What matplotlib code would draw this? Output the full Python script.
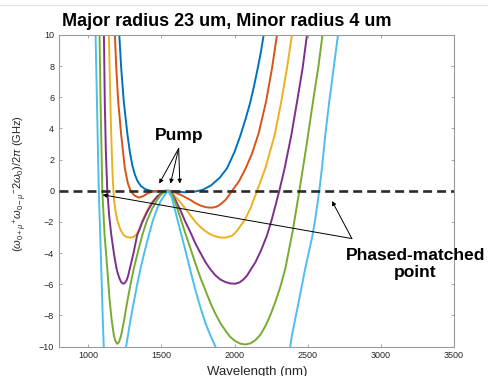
"""Integrated dispersion curves vs wavelength, ring 23 um / 4 um."""
import matplotlib
matplotlib.use("Agg")
import matplotlib.pyplot as plt
from matplotlib.lines import Line2D

# --- Data (wavelength in nm, value in GHz) ---
WL_1 = [1205, 1212, 1225, 1243, 1268, 1285, 1302, 1320, 1338, 1360, 1390, 1425, 1470,
        1510, 1545, 1600, 1660, 1720, 1780, 1840, 1900, 1949, 2000, 2040, 2075, 2108,
        2135, 2158, 2180, 2199, 2210]
VAL_1 = [11.5, 10.0, 7.9, 5.7, 3.6, 2.45, 1.6, 1.0, 0.6, 0.3, 0.1, 0.0, -0.06,
         -0.03, 0.0, -0.05, -0.1, -0.07, 0.05, 0.35, 0.85, 1.45, 2.5, 3.55, 4.6, 5.7,
         6.8, 7.85, 8.9, 10.0, 10.7]

WL_2 = [1176, 1182, 1192, 1205, 1225, 1250, 1270, 1289, 1315, 1345, 1375, 1403, 1430,
        1460, 1500, 1545, 1570, 1596, 1630, 1664, 1700, 1733, 1767, 1801, 1825, 1850,
        1875, 1900, 1937, 1960, 1983, 2030, 2074, 2120, 2165, 2215, 2256, 2290, 2298]
VAL_2 = [11.2, 10.0, 7.8, 5.7, 3.6, 1.45, 0.5, 0.0, -0.3, -0.44, -0.35, -0.18, -0.08,
         -0.03, -0.01, 0.0, -0.03, -0.12, -0.25, -0.42, -0.6, -0.8, -0.95, -1.05, -1.08,
         -1.08, -1.03, -0.9, -0.6, -0.32, 0.0, 0.6, 1.4, 2.4, 3.7, 5.71, 7.86, 10.0, 10.6]

WL_3 = [1137, 1141, 1149, 1157, 1165, 1175, 1186, 1200, 1220, 1243, 1265, 1289, 1310,
        1328, 1350, 1373, 1405, 1437, 1478, 1510, 1545, 1570, 1596, 1630, 1664, 1700,
        1733, 1767, 1801, 1835, 1869, 1903, 1937, 1980, 2005, 2030, 2052, 2074, 2110,
        2154, 2210, 2274, 2319, 2358, 2392, 2400]
VAL_3 = [11.5, 10.0, 6.5, 3.6, 1.3, -0.5, -1.3, -1.95, -2.5, -2.86, -2.98, -3.01, -2.96,
         -2.82, -2.5, -1.85, -1.2, -0.71, -0.28, -0.07, 0.0, -0.1, -0.4, -0.75, -1.15, -1.6,
         -2.0, -2.33, -2.6, -2.8, -2.93, -3.0, -3.01, -2.9, -2.7, -2.4, -2.1, -1.8, -1.1,
         0.0, 1.43, 3.57, 5.71, 7.86, 10.0, 10.6]

WL_4 = [1104, 1107, 1113, 1120, 1130, 1143, 1157, 1175, 1191, 1200, 1212, 1225, 1239,
        1250, 1262, 1273, 1284, 1311, 1334, 1370, 1403, 1440, 1471, 1510, 1545, 1570,
        1596, 1630, 1664, 1700, 1733, 1767, 1801, 1835, 1869, 1903, 1937, 1970, 2005,
        2035, 2060, 2085, 2108, 2142, 2180, 2222, 2256, 2306, 2342, 2388, 2427, 2465,
        2495, 2502]
VAL_4 = [11.5, 10.0, 5.71, 2.6, 0.0, -1.6, -2.8, -4.0, -4.9, -5.25, -5.6, -5.87, -5.97,
         -5.92, -5.75, -5.45, -5.0, -3.93, -2.86, -2.0, -1.35, -0.75, -0.38, -0.1, 0.0, -0.15,
         -0.6, -1.25, -2.0, -2.7, -3.4, -4.0, -4.58, -5.05, -5.43, -5.7, -5.86, -5.95, -5.97,
         -5.88, -5.7, -5.45, -5.1, -4.6, -3.85, -2.86, -1.79, 0.0, 1.43, 3.57, 5.71, 7.86,
         10.0, 10.6]

WL_5 = [1074, 1077, 1084, 1096, 1112, 1130, 1145, 1159, 1175, 1186, 1198, 1210, 1225,
        1245, 1266, 1289, 1311, 1340, 1369, 1400, 1437, 1470, 1494, 1520, 1545, 1570,
        1596, 1630, 1664, 1700, 1733, 1767, 1801, 1835, 1869, 1903, 1937, 1970, 2005,
        2040, 2074, 2108, 2142, 2176, 2210, 2244, 2278, 2312, 2347, 2399, 2443, 2490,
        2539, 2572, 2601, 2607]
VAL_5 = [11.5, 10.0, 5.71, 0.0, -2.9, -5.0, -6.9, -8.22, -9.29, -9.65, -9.83, -9.72, -9.29,
         -8.3, -7.15, -6.0, -5.0, -3.9, -2.86, -1.95, -1.15, -0.6, -0.28, -0.07, 0.0, -0.2,
         -0.8, -1.75, -2.75, -3.75, -4.68, -5.6, -6.4, -7.2, -7.9, -8.5, -8.97, -9.38, -9.66,
         -9.82, -9.87, -9.8, -9.6, -9.25, -8.7, -8.0, -7.15, -6.2, -5.0, -2.5, 0.0, 2.8,
         5.9, 7.9, 10.0, 10.5]

WL_6 = [1047, 1050, 1072, 1089, 1100, 1106, 1110, 1250, 1259, 1285, 1311, 1335, 1357,
        1385, 1414, 1442, 1471, 1490, 1509, 1545, 1570, 1600, 1630, 1664, 1700, 1733,
        1767, 1801, 1835, 1869, 1885, 2370, 2381, 2392, 2438, 2483, 2533, 2552, 2579,
        2597, 2620, 2647, 2677, 2707, 2712]
VAL_6 = [11.5, 10.0, 0.0, -5.0, -8.5, -10.0, -11.2, -11.5, -10.0, -8.5, -7.15, -6.0, -5.0,
         -3.9, -2.86, -1.9, -1.15, -0.75, -0.45, 0.0, -0.4, -1.5, -2.6, -3.83, -5.2, -6.4,
         -7.5, -8.5, -9.3, -10.0, -10.7, -10.7, -10.0, -9.29, -7.15, -5.0, -2.86, -1.79, 0.0,
         1.43, 3.57, 5.71, 7.86, 10.0, 10.5]

CURVES = [(WL_1, VAL_1), (WL_2, VAL_2), (WL_3, VAL_3),
          (WL_4, VAL_4), (WL_5, VAL_5), (WL_6, VAL_6)]

# MATLAB default line colours
COLORS = ["#0072BD", "#D95319", "#EDB120", "#7E2F8E", "#77AC30", "#4DBEEE"]

X_TICKS = [1000, 1500, 2000, 2500, 3000, 3500]
Y_TICKS = [-10, -8, -6, -4, -2, 0, 2, 4, 6, 8, 10]

PUMP_TAIL = (1618, 2.72)
PUMP_HEADS = [(1485, 0.46), (1562, 0.46), (1626, 0.46)]
PM_TAIL = (2802, -3.07)
PM_HEADS = [(2666, -0.66), (1098, -0.26)]

plt.rcParams["font.family"] = ["Liberation Sans", "DejaVu Sans"]
plt.rcParams["mathtext.fontset"] = "custom"
plt.rcParams["mathtext.rm"] = "Liberation Sans"
plt.rcParams["mathtext.it"] = "Liberation Sans:italic"

AX_GREY = "#9a9a9a"
TXT = "#262626"

fig = plt.figure(figsize=(4.89, 3.76), dpi=100)
ax = fig.add_axes([59 / 489, 1 - 346.5 / 376, 395 / 489, 311.5 / 376])

for (wl, val), c in zip(CURVES, COLORS):
    ax.plot(wl, val, color=c, lw=1.4, solid_joinstyle="round")

ax.axhline(0, color="#2b2b2b", lw=1.9, dashes=[3.4, 1.9], zorder=5)

arrow_kw = dict(arrowstyle="-|>", color="black", lw=0.7, mutation_scale=6,
                shrinkA=0, shrinkB=0)
for head in PUMP_HEADS:
    ax.annotate("", xy=head, xytext=PUMP_TAIL, arrowprops=arrow_kw, zorder=6)
for head in PM_HEADS:
    ax.annotate("", xy=head, xytext=PM_TAIL, arrowprops=arrow_kw, zorder=6,
                annotation_clip=False)

ax.text(1624, 3.57, "Pump", ha="center", va="center", fontsize=12.5,
        fontweight="bold", color="black", zorder=7)
ax.text(3234, -4.68, "Phased-matched\npoint", ha="center", va="center",
        fontsize=12.5, fontweight="bold", color="black", linespacing=1.15,
        clip_on=False, zorder=7)

ax.set_xlim(800, 3500)
ax.set_ylim(-10, 10)
ax.set_xticks(X_TICKS)
ax.set_yticks(Y_TICKS)
ax.set_yticklabels([str(t).replace("-", "\u2212") for t in Y_TICKS])
ax.tick_params(direction="in", length=2.5, width=0.6, color=AX_GREY,
               labelsize=6.5, labelcolor=TXT, top=True, right=True, pad=3.5)
for sp in ax.spines.values():
    sp.set_color(AX_GREY)
    sp.set_linewidth(0.8)

fig.text(62 / 489, 1 - 22 / 376, "Major radius 23 um, Minor radius 4 um",
         ha="left", va="center", fontsize=13, fontweight="bold", color="black")
fig.text(257 / 489, 1 - 366 / 376, "Wavelength (nm)", ha="center", va="top",
         fontsize=9.5, color=TXT)
fig.text(20 / 489, 1 - 183 / 376,
         r"$(\omega_{0+\mu}{}^{+}\omega_{0-\mu}{}^{-}2\omega_{0})/2\pi$ (GHz)",
         rotation=90, ha="center", va="center", fontsize=8, color=TXT)

# faint separator line along the very top of the screenshot
fig.add_artist(Line2D([0, 1], [1 - 5 / 376] * 2, color="#e3e3e3", lw=0.8))

fig.savefig("out.png", dpi=100, facecolor="white")
